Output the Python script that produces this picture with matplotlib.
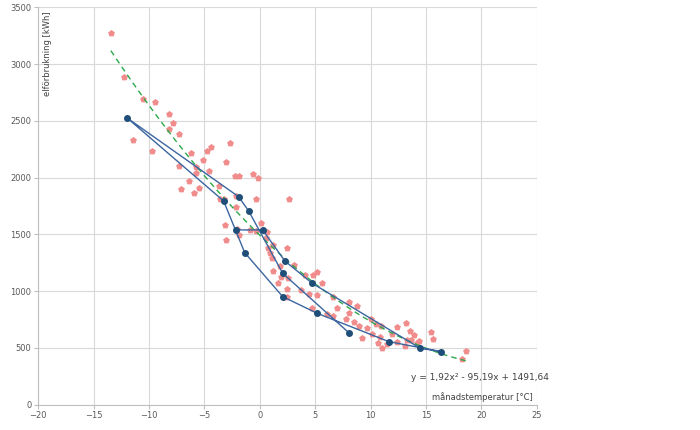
import numpy as np
import matplotlib
matplotlib.use("Agg")
import matplotlib.pyplot as plt

# all months (scatter): monthly temperature [C] and consumption [kWh]
temp_all = [-13.45, -12.25, -10.56, -9.45, -8.16, -7.87, -8.23, -7.34, -11.41, -9.75,
            -6.22, -4.77, -4.39, -2.67, -5.14, -3.06, -7.34, -5.74, -4.63, -2.22,
            -1.88, -0.65, -0.18, -5.74, -6.44, -7.12, -5.53, -5.99, -3.73, -3.27,
            -3.63, -2.12, -0.34, 2.67, -2.14, 0.11, -3.12, -3.06, -2.06, -1.85,
            -0.92, -0.34, 0.65, 0.59, 1.19, 0.74, 2.46, 0.89, 1.10, 1.79,
            1.16, 3.12, 1.92, 2.51, 4.07, 5.14, 4.81, 5.62, 1.61, 2.46,
            3.73, 4.43, 5.20, 6.56, 2.46, 4.72, 6.98, 8.03, 8.73, 8.03,
            6.08, 6.58, 7.82, 8.48, 8.93, 9.24, 9.99, 10.44, 10.96, 9.69,
            10.08, 10.83, 11.05, 12.41, 13.16, 11.89, 13.54, 13.91, 13.67, 14.36,
            13.09, 12.41, 13.31, 15.42, 15.66, 18.58, 18.22, 14.15, 11.44, 10.62]
kwh_all = [3273, 2885, 2697, 2670, 2562, 2480, 2427, 2385, 2332, 2235,
           2215, 2238, 2268, 2303, 2152, 2138, 2103, 2094, 2059, 2018,
           2015, 2033, 1993, 2037, 1971, 1898, 1906, 1862, 1927, 1812,
           1812, 1834, 1812, 1809, 1744, 1598, 1583, 1451, 1548, 1495,
           1536, 1533, 1518, 1466, 1406, 1383, 1383, 1339, 1289, 1224,
           1180, 1226, 1127, 1118, 1142, 1164, 1145, 1069, 1069, 1016,
           1010, 970, 966, 945, 945, 848, 851, 901, 871, 809,
           798, 780, 751, 730, 692, 589, 754, 707, 692, 672,
           619, 598, 501, 681, 716, 619, 648, 613, 569, 560,
           516, 554, 569, 642, 575, 472, 397, 540, 533, 542]

# highlighted period, in month order
temp_sel = [8.03, 2.06, -1.01, -1.92, -11.98, -3.27, -1.37, 2.06, 5.17, 11.65,
            16.38, 14.48, 4.72, 2.26, 0.25, -2.12]
kwh_sel = [633, 1157, 1706, 1832, 2526, 1794, 1339, 951, 804, 554,
           466, 496, 1069, 1265, 1539, 1539]

# trendline coefficients (as shown in the chart)
trend = [1.92, -95.19, 1491.64]
equation = "y = 1,92x² - 95,19x + 1491,64"

plt.rcParams['font.family'] = ['DejaVu Sans']
fig = plt.figure(figsize=(7, 4.3), dpi=100)
ax = fig.add_axes([0.0547, 0.0593, 0.7122, 0.9233])

ax.scatter(temp_all, kwh_all, marker='p', s=26, color='#f08c8c', zorder=3, linewidths=0)

tx = np.linspace(min(temp_all), max(temp_all), 200)
ax.plot(tx, np.polyval(trend, tx), color='#2ca84a', linestyle=(0, (4, 3)), linewidth=1.0, zorder=4)

ax.plot(temp_sel, kwh_sel, color='#3c65a0', linewidth=1.0, marker='o', markersize=4,
        markerfacecolor='#1f4e79', markeredgecolor='#1f4e79', zorder=5)

ax.set_xlim(-20, 25)
ax.set_ylim(0, 3500)
ax.set_xticks(range(-20, 26, 5))
ax.set_yticks(range(0, 3501, 500))
ax.grid(True, color='#d9d9d9', linewidth=0.8)
ax.set_axisbelow(True)
for s in ['top', 'right']:
    ax.spines[s].set_visible(False)
for s in ['left', 'bottom']:
    ax.spines[s].set_color('#bfbfbf')
    ax.spines[s].set_linewidth(0.8)
ax.tick_params(labelsize=6, colors='#595959', length=3, width=0.8, pad=2)
ax.tick_params(axis='both', color='#bfbfbf')

ax.text(0.0175, 0.989, 'elförbrukning [kWh]', transform=ax.transAxes, rotation=90,
        ha='center', va='top', fontsize=6, color='#404040')
ax.text(0.992, 0.006, 'månadstemperatur [°C]', transform=ax.transAxes,
        ha='right', va='bottom', fontsize=6, color='#404040')
ax.text(0.886, 0.069, equation, transform=ax.transAxes,
        ha='center', va='center', fontsize=6.5, color='#404040')

fig.savefig('out.png', dpi=100)
